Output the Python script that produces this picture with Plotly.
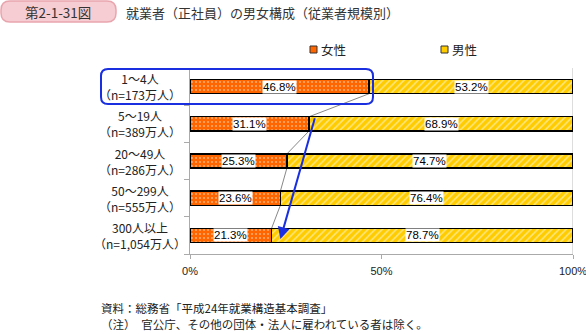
import plotly.graph_objects as go

categories = ["1～4人<br>（n=173万人）", "5～19人<br>（n=389万人）", "20～49人<br>（n=286万人）",
              "50～299人<br>（n=555万人）", "300人以上<br>（n=1,054万人）"]
female = [46.8, 31.1, 25.3, 23.6, 21.3]
male = [53.2, 68.9, 74.7, 76.4, 78.7]
x_ticks = [0, 50, 100]
x_ticklabels = ["0%", "50%", "100%"]
legend_names = ["女性", "男性"]
colors = ["#FF6600", "#FFCC00"]

FONT = "Noto Sans CJK JP"
L, R, T, B = 190, 13, 68, 80
W, H = 586, 334
pw, ph = W - L - R, H - T - B
def px(xp):
    return (xp - L) / pw
def py(yp):
    return (H - B - yp) / ph

idx = list(range(len(categories)))
bw = 0.38

fig = go.Figure()
fig.add_trace(go.Bar(
    y=idx, x=female, orientation="h", name=legend_names[0], width=bw,
    marker=dict(color=colors[0], line=dict(color="black", width=1.5),
                pattern=dict(shape=".", fgcolor="white", size=4, solidity=0.18)),
    hoverinfo="skip"))
fig.add_trace(go.Bar(
    y=idx, x=male, orientation="h", name=legend_names[1], width=bw,
    marker=dict(color=colors[1], line=dict(color="black", width=1.5),
                pattern=dict(shape="/", fgcolor="white", size=5, solidity=0.3)),
    hoverinfo="skip"))

lab_font = dict(size=11.5, color="black", family="Liberation Sans")
annotations = []
for i, (f, m) in enumerate(zip(female, male)):
    annotations.append(dict(x=f / 2, y=i, text=f"{f:.1f}%", showarrow=False,
                            bgcolor="white", font=lab_font, borderpad=0))
    annotations.append(dict(x=f + m / 2, y=i, text=f"{m:.1f}%", showarrow=False,
                            bgcolor="white", font=lab_font, borderpad=0))
    annotations.append(dict(xref="paper", yref="y", x=px(140), y=i, text=categories[i],
                            showarrow=False, xanchor="center", yanchor="middle", align="center",
                            font=dict(size=12, color="#222", family=FONT)))

# blue arrow
annotations.append(dict(x=23.6, y=4.1, ax=32.7, ay=0.81, xref="x", yref="y", axref="x", ayref="y",
                        showarrow=True, arrowhead=2, arrowsize=1.2, arrowwidth=2, arrowcolor="#1A2FE0",
                        text=""))

# title
annotations.append(dict(xref="paper", yref="paper", x=px(58), y=py(12), xanchor="center",
                        yanchor="middle", text="第2-1-31図",
                        showarrow=False, font=dict(size=13.5, color="#333", family=FONT)))
annotations.append(dict(xref="paper", yref="paper", x=px(124), y=py(12), xanchor="left",
                        yanchor="middle", text="就業者（正社員）の男女構成（従業者規模別）",
                        showarrow=False, font=dict(size=13, color="#333", family=FONT)))
# footnotes
annotations.append(dict(xref="paper", yref="paper", x=px(99), y=py(308), xanchor="left",
                        yanchor="middle", text="資料：総務省「平成24年就業構造基本調査」",
                        showarrow=False, font=dict(size=11.5, color="#222", family=FONT)))
annotations.append(dict(xref="paper", yref="paper", x=px(99), y=py(324), xanchor="left",
                        yanchor="middle", text="（注）　官公庁、その他の団体・法人に雇われている者は除く。",
                        showarrow=False, font=dict(size=11.5, color="#222", family=FONT)))

# legend (custom)
legend_pos = [310, 441]
shapes = []
for name, col, lx in zip(legend_names, colors, legend_pos):
    shapes.append(dict(type="rect", xref="paper", yref="paper", x0=px(lx), x1=px(lx + 7),
                       y0=py(46), y1=py(53), fillcolor=col, line=dict(color="#333", width=1)))
    annotations.append(dict(xref="paper", yref="paper", x=px(lx + 9), y=py(49.5), xanchor="left",
                            yanchor="middle", text=name, showarrow=False,
                            font=dict(size=12.5, color="#222", family=FONT)))

# series lines
for i in range(len(female) - 1):
    shapes.append(dict(type="line", xref="x", yref="y", x0=female[i], y0=i + bw / 2,
                       x1=female[i + 1], y1=i + 1 - bw / 2, line=dict(color="#888", width=1),
                       layer="below"))
# right border line
shapes.append(dict(type="line", xref="x", yref="paper", x0=100, x1=100, y0=0, y1=1,
                   line=dict(color="#bbb", width=1), layer="below"))

def rrect(x0p, y0p, x1p, y1p, r):
    a, b = px(x0p), px(x1p)
    c, d = py(y0p), py(y1p)
    rx, ry = r / pw, r / ph
    return (f"M {a+rx},{c} L {b-rx},{c} Q {b},{c} {b},{c-ry} L {b},{d+ry} Q {b},{d} {b-rx},{d} "
            f"L {a+rx},{d} Q {a},{d} {a},{d+ry} L {a},{c-ry} Q {a},{c} {a+rx},{c} Z")

shapes.append(dict(type="path", xref="paper", yref="paper", path=rrect(101, 69, 373, 104, 7),
                   line=dict(color="#1A2FE0", width=2), fillcolor="rgba(0,0,0,0)"))
shapes.append(dict(type="path", xref="paper", yref="paper", path=rrect(1, 1, 116, 22, 9),
                   line=dict(color="#E9A5AE", width=1.5), fillcolor="#F6CDD2", layer="below"))

fig.update_layout(
    width=W, height=H, barmode="stack",
    margin=dict(l=L, r=R, t=T, b=B, autoexpand=False),
    paper_bgcolor="white", plot_bgcolor="white",
    font=dict(family=FONT, color="#222"),
    xaxis=dict(range=[0, 100], tickvals=x_ticks, ticktext=x_ticklabels, showgrid=False,
               zeroline=False, showline=True, linecolor="#aaa", linewidth=1, ticks="outside",
               ticklen=4, tickcolor="#aaa", ticklabeloverflow="allow", ticklabelstandoff=3,
               tickfont=dict(size=11, family="Liberation Sans", color="#222"),
               fixedrange=True),
    yaxis=dict(range=[4.5, -0.5], tickvals=[-0.5, 0.5, 1.5, 2.5, 3.5, 4.5], showticklabels=False,
               showgrid=False, zeroline=False, showline=True, linecolor="#aaa", linewidth=1,
               ticks="outside", ticklen=5, tickcolor="#aaa", fixedrange=True),
    showlegend=False,
    annotations=annotations, shapes=shapes,
)
fig.write_html("out.html")
